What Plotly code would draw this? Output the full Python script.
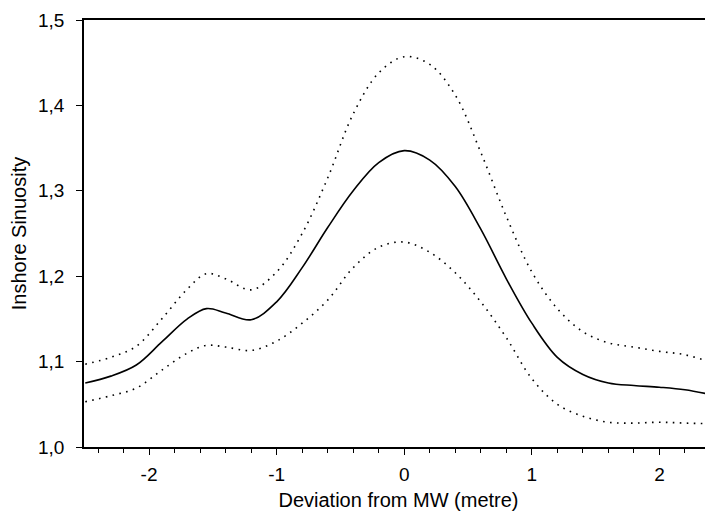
import plotly.graph_objects as go

x_vals = [-2.5, -2.3, -2.1, -1.9, -1.7, -1.55, -1.4, -1.2, -1.0, -0.8, -0.6, -0.4, -0.2,
          0.0, 0.2, 0.4, 0.6, 0.8, 1.0, 1.2, 1.4, 1.6, 1.8, 2.0, 2.2, 2.45]
mean_vals = [1.075, 1.083, 1.096, 1.123, 1.150, 1.162, 1.157, 1.149, 1.170, 1.210, 1.257, 1.300, 1.333,
             1.347, 1.336, 1.305, 1.255, 1.197, 1.145, 1.105, 1.085, 1.075, 1.072, 1.070, 1.067, 1.060]
upper_vals = [1.097, 1.105, 1.118, 1.150, 1.185, 1.203, 1.197, 1.184, 1.205, 1.250, 1.315, 1.390, 1.438,
              1.457, 1.448, 1.412, 1.345, 1.270, 1.205, 1.162, 1.135, 1.122, 1.117, 1.112, 1.108, 1.097]
lower_vals = [1.053, 1.060, 1.069, 1.090, 1.110, 1.119, 1.117, 1.113, 1.124, 1.145, 1.172, 1.210, 1.234,
              1.240, 1.228, 1.204, 1.170, 1.128, 1.080, 1.050, 1.036, 1.029, 1.028, 1.029, 1.028, 1.027]

x_ticks = [-2, -1, 0, 1, 2]
y_ticks = [1.0, 1.1, 1.2, 1.3, 1.4, 1.5]

fig = go.Figure()
dot_style = dict(color="black", width=1.6, dash="1.6px,5.4px", shape="spline", smoothing=1.0)
fig.add_trace(go.Scatter(x=x_vals, y=upper_vals, mode="lines", line=dot_style, showlegend=False))
fig.add_trace(go.Scatter(x=x_vals, y=lower_vals, mode="lines", line=dot_style, showlegend=False))
fig.add_trace(go.Scatter(x=x_vals, y=mean_vals, mode="lines",
                         line=dict(color="black", width=1.6, shape="spline", smoothing=1.0),
                         showlegend=False))

font_family = "Liberation Sans, Arial, sans-serif"
# page body has an 8px margin, so margins are offset accordingly
fig.update_layout(
    width=705, height=506,
    margin=dict(l=76, r=0, t=12, b=67),
    paper_bgcolor="white", plot_bgcolor="white",
    separators=",.",
    font=dict(family=font_family, size=19, color="black"),
    xaxis=dict(
        range=[-2.51, 2.42], tickvals=x_ticks, ticktext=[str(v) for v in x_ticks],
        showgrid=False, zeroline=False, showline=True, linecolor="black", linewidth=1.5,
        mirror=True, ticks="outside", ticklen=6, tickwidth=1.2, tickcolor="black",
        minor=dict(dtick=0.2, tick0=0, ticks="outside", ticklen=4, tickwidth=1, tickcolor="black"),
        title=dict(text="Deviation from MW (metre)", font=dict(size=20), standoff=9),
        tickfont=dict(size=19), automargin=True, ticklabelstandoff=3,
    ),
    yaxis=dict(
        range=[1.0, 1.5], tickvals=y_ticks, ticktext=["1,0", "1,1", "1,2", "1,3", "1,4", "1,5"],
        showgrid=False, zeroline=False, showline=True, linecolor="black", linewidth=1.5,
        ticks="outside", ticklen=6, tickwidth=1.2, tickcolor="black",
        title=dict(text="Inshore Sinuosity", font=dict(size=20), standoff=10),
        tickfont=dict(size=19), automargin=False, ticklabelstandoff=8,
    ),
)

fig.write_html("out.html")
